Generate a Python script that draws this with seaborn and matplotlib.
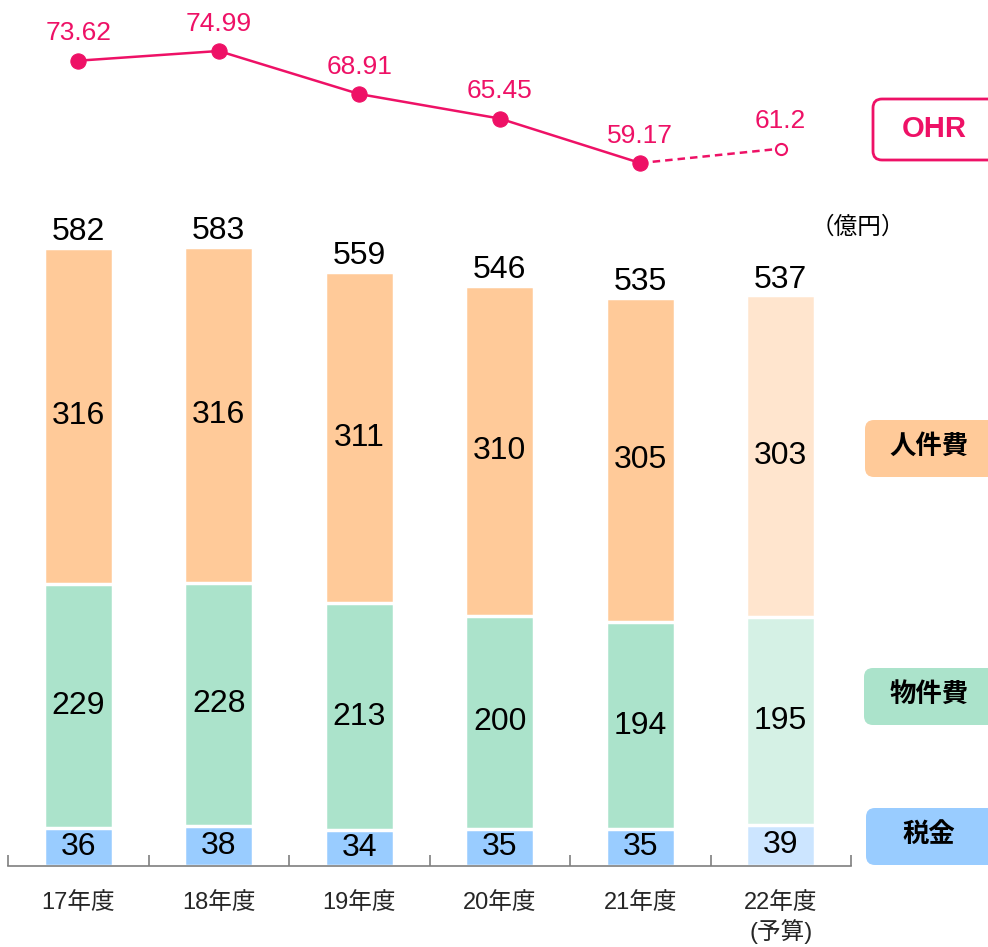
import numpy as np
import pandas as pd
import matplotlib
matplotlib.use('Agg')
import matplotlib.pyplot as plt
from matplotlib.patches import FancyBboxPatch
import seaborn as sns

# Data (億円)
years = ['17年度', '18年度', '19年度', '20年度', '21年度', '22年度\n(予算)']
personnel = [316, 316, 311, 310, 305, 303]
goods = [229, 228, 213, 200, 194, 195]
tax = [36, 38, 34, 35, 35, 39]
totals = [582, 583, 559, 546, 535, 537]
ohr = [73.62, 74.99, 68.91, 65.45, 59.17, 61.2]
ohr_labels = ['73.62', '74.99', '68.91', '65.45', '59.17', '61.2']

ORANGE, ORANGE_L = '#FFCA99', '#FFE5CE'
GREEN, GREEN_L = '#ABE3CB', '#D5F1E5'
BLUE, BLUE_L = '#99CCFF', '#CCE5FF'
PINK = '#EE1166'

sns.set_theme(style='white')
plt.rcParams['font.family'] = ['Liberation Sans', 'Noto Sans CJK JP']

df = pd.DataFrame({'year': years, 'personnel': personnel, 'goods': goods, 'tax': tax})
df['goods_top'] = df['goods'] + df['tax']
df['top'] = df['personnel'] + df['goods_top']

fig = plt.figure(figsize=(9.88, 9.47), dpi=100)
W, H = 988, 947

## Bar axes
ax = fig.add_axes([8 / W, 81 / H, 843 / W, 666 / H])
layers = [('top', ORANGE, ORANGE_L), ('goods_top', GREEN, GREEN_L), ('tax', BLUE, BLUE_L)]
for col, c, cl in layers:
    pal = [c] * 5 + [cl]
    sns.barplot(data=df, x='year', y=col, hue='year', palette=pal, legend=False, saturation=1,
                width=0.49, edgecolor='white', linewidth=2.5, ax=ax, zorder=2)

ax.set_xlim(-0.5, 5.5)
ax.set_ylim(0, 626)
ax.set_xlabel('')
ax.set_ylabel('')
ax.set_yticks([])
for s in ('top', 'left', 'right'):
    ax.spines[s].set_visible(False)
ax.spines['bottom'].set_color('#7F7F7F')
ax.spines['bottom'].set_linewidth(1.2)
ax.set_xticks(range(len(years)))
ax.set_xticklabels(years, fontsize=17, linespacing=1.25,
                   family=['Liberation Sans', 'Noto Sans CJK JP'])
ax.tick_params(axis='x', which='major', bottom=False, length=0, pad=19)
ax.set_xticks(np.arange(-0.5, 6, 1), minor=True)
ax.tick_params(axis='x', which='minor', bottom=True, direction='in', length=8,
               color='#7F7F7F', width=1.2)

# Segment labels
for i in range(len(years)):
    ax.text(i, tax[i] / 2, str(tax[i]), ha='center', va='center', fontsize=23, color='black', zorder=5)
    ax.text(i, tax[i] + goods[i] / 2, str(goods[i]), ha='center', va='center', fontsize=23, color='black', zorder=5)
    ax.text(i, tax[i] + goods[i] + personnel[i] / 2, str(personnel[i]), ha='center', va='center',
            fontsize=23, color='black', zorder=5)
    ax.annotate(str(totals[i]), (i, totals[i]), xytext=(0, 0), textcoords='offset points',
                ha='center', va='bottom', fontsize=23, color='black')

## OHR line axes
lax = fig.add_axes([8 / W, 757 / H, 843 / W, 190 / H])
lax.set_xlim(-0.5, 5.5)
lax.set_ylim(55.36, 82.19)
lax.axis('off')
xs = np.arange(len(ohr))
sns.lineplot(x=xs[:5], y=ohr[:5], color=PINK, linewidth=1.8, marker='o', markersize=11,
             markeredgecolor=PINK, ax=lax)
lax.plot(xs[4:], ohr[4:], color=PINK, linewidth=1.8, linestyle=(0, (3, 2)))
lax.plot(xs[5], ohr[5], marker='o', markersize=8, markerfacecolor='white',
         markeredgecolor=PINK, markeredgewidth=1.5, linestyle='none')
for x, v, lab in zip(xs, ohr, ohr_labels):
    lax.annotate(lab, (x, v), xytext=(0, 11), textcoords='offset points',
                 ha='center', va='bottom', fontsize=19, color=PINK)

## Overlay for legend boxes (pixel coordinates)
ov = fig.add_axes([0, 0, 1, 1], zorder=10)
ov.set_xlim(0, W)
ov.set_ylim(H, 0)
ov.axis('off')
ov.patch.set_alpha(0)

boxes = [
    (865, 420, ORANGE, '人件費', 446),
    (864, 668, GREEN, '物件費', 694),
    (866, 808, BLUE, '税金', 834),
]
for x0, y0, c, lab, ty in boxes:
    ov.add_patch(FancyBboxPatch((x0, y0), 140, 57, boxstyle='round,pad=0,rounding_size=9',
                                facecolor=c, edgecolor='none'))
    ov.text(929, ty, lab, ha='center', va='center', fontsize=19, fontweight='bold',
            family='Noto Sans CJK JP', color='black')

ov.add_patch(FancyBboxPatch((873, 99), 140, 61, boxstyle='round,pad=0,rounding_size=9',
                            facecolor='white', edgecolor=PINK, linewidth=2))
ov.text(934, 129, 'OHR', ha='center', va='center', fontsize=21, fontweight='bold',
        color=PINK, family='Liberation Sans')

ov.text(858, 227, '（億円）', ha='center', va='center', fontsize=17,
        family='Noto Sans CJK JP', color='black')

fig.savefig('out.png', dpi=100)
